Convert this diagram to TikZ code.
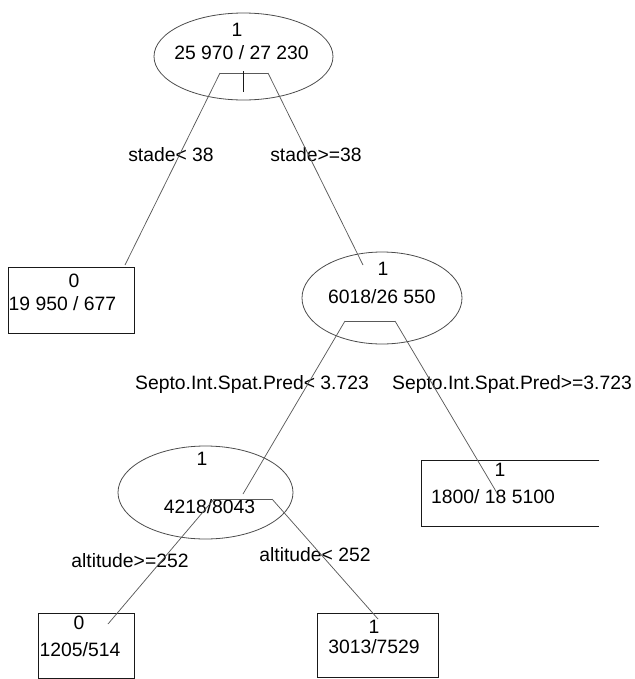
\documentclass[tikz,border=0pt]{standalone}
\usepackage{fontspec}
\setmainfont{Liberation Sans}
\usetikzlibrary{shapes.geometric,positioning}

\begin{document}
\begin{tikzpicture}[x=0.75pt,y=-0.75pt,
    split/.style={draw=black!70,ellipse,inner sep=0pt,line width=0.6pt},
    leaf/.style={draw=black!90,rectangle,inner sep=0pt,line width=0.6pt},
    txt/.style={inner sep=0pt,font=\fontsize{14.5}{17}\selectfont,
      text height=10.4pt,text depth=0pt},
    branch/.style={draw=black!65,line width=0.55pt}
  ]
    \useasboundingbox (0,0) rectangle (635,679);

    % inner nodes
    \node[split,minimum width=134.25pt,minimum height=65.25pt] (root) at (243.5,56.5) {};
    \node[split,minimum width=120pt,minimum height=69pt] (sep) at (382,298) {};
    \node[split,minimum width=131.25pt,minimum height=69.75pt] (alt) at (205.5,492.5) {};

    % leaves
    \node[leaf,minimum width=94.5pt,minimum height=49.5pt] (stadelo) at (71,300) {};
    \node[leaf,minimum width=72pt,minimum height=48.75pt] (althi) at (86,645.5) {};
    \node[leaf,minimum width=90.75pt,minimum height=48pt] (altlo) at (377.5,645) {};
    \node[minimum width=132.75pt,minimum height=48.75pt,inner sep=0pt] (sephi) at (510.5,493.5) {};
    \draw[black!90,line width=0.6pt] (sephi.north east) -- (sephi.north west)
      -- (sephi.south west) -- (sephi.south east);

    % node texts
    \foreach \n/\x/\y/\t in {rootc/237/30/1, rootn/241.5/53/{25 970 / 27 230},
        sepc/383/269/1, sepn/382/297/{6018/26 550},
        altc/202/459/1, altn/209.5/507/{4218/8043},
        stadeloc/74/281/0, stadelon/62.5/304/{19 950 / 677},
        sephic/500/470/1, sephin/493/497/{1800/ 18 5100},
        althic/79/623/0, althin/80/650/{1205/514},
        altloc/374/627/1, altlon/374/647/{3013/7529}} {
      \node[txt] (\n) at (\x,\y) {\t};
    }

    % split conditions
    \node[txt] (c1) at (171,155) {stade< 38};
    \node[txt] (c2) at (316,155) {stade>=38};
    \node[txt] (c3) at (252,383) {Septo.Int.Spat.Pred< 3.723};
    \node[txt] (c4) at (512,383) {Septo.Int.Spat.Pred>=3.723};
    \node[txt] (c5) at (130,561) {altitude>=252};
    \node[txt] (c6) at (315,555) {altitude< 252};

    % split bars and branch ends
    \coordinate (rootl) at (220,73);
    \coordinate (rootr) at (268,73);
    \coordinate (sepl) at (345,321);
    \coordinate (sepr) at (395,321);
    \coordinate (altl) at (214,499);
    \coordinate (altr) at (272,499);
    \coordinate (e1) at (125,265);
    \coordinate (e2) at (363,265);
    \coordinate (e3) at (243,494);
    \coordinate (e4) at (497,493);
    \coordinate (e5) at (108,624);
    \coordinate (e6) at (378,619);

    \draw[branch] (rootl) -- (rootr);
    \draw[branch,black!90,line width=0.7pt] (243,71) -- (243,92);
    \draw[branch] (sepl) -- (sepr);
    \draw[branch] (altl) -- (altr);
    \draw[branch] (rootl) -- (e1);
    \draw[branch] (rootr) -- (e2);
    \draw[branch] (sepl) -- (e3);
    \draw[branch] (sepr) -- (e4);
    \draw[branch] (altl) -- (e5);
    \draw[branch] (altr) -- (e6);
  \end{tikzpicture}
\end{document}
